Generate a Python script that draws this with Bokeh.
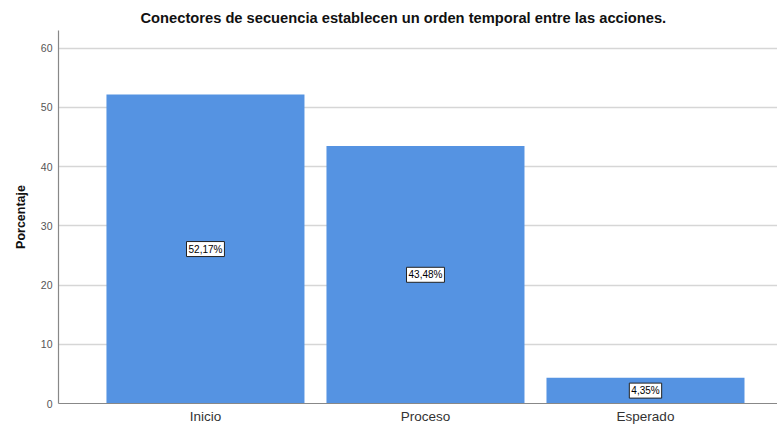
from bokeh.plotting import figure
from bokeh.models import ColumnDataSource, Range1d, FixedTicker, Label, Title
from bokeh.embed import file_html
from bokeh.resources import INLINE

categories = ["Inicio", "Proceso", "Esperado"]
values = [52.17, 43.48, 4.35]
labels = ["52,17%", "43,48%", "4,35%"]
y_ticks = [0, 10, 20, 30, 40, 50, 60]

xpos = [i + 0.5 for i in range(len(categories))]

src = ColumnDataSource(dict(x=xpos, val=values))

FONT = "Liberation Sans"

p = figure(
    frame_width=719, frame_height=373,
    x_range=Range1d(-0.168, 3.100),
    y_range=Range1d(0, 63),
    output_backend="svg", toolbar_location=None,
    min_border_left=58, min_border_right=0, min_border_top=30, min_border_bottom=17,
)
p.title = Title(text="Conectores de secuencia establecen un orden temporal entre las acciones.",
                align="left", offset=82, text_font=FONT, text_font_size="14.7px",
                text_font_style="bold", text_color="#111111", standoff=9)

p.vbar(x="x", top="val", width=0.9, source=src, fill_color="#5593E2", line_color=None)

for x, v, lab in zip(xpos, values, labels):
    p.add_layout(Label(x=x, y=v / 2, text=lab,
                       text_align="center", text_baseline="middle",
                       text_font=FONT, text_font_size="10px", text_color="#000000",
                       background_fill_color="white", border_line_color="#222222",
                       border_line_width=1, padding=2))

p.outline_line_color = None
p.xgrid.grid_line_color = None
p.ygrid.grid_line_color = "#d6d6d6"
p.ygrid.grid_line_width = 1.5
p.ygrid.ticker = FixedTicker(ticks=y_ticks)

p.yaxis.ticker = FixedTicker(ticks=y_ticks)
p.yaxis.axis_label = "Porcentaje"
p.yaxis.axis_label_text_font = FONT
p.yaxis.axis_label_text_font_size = "12.5px"
p.yaxis.axis_label_text_font_style = "bold"
p.yaxis.axis_label_text_color = "#111111"
p.yaxis.axis_label_standoff = 10
p.yaxis.major_label_text_font = FONT
p.yaxis.major_label_text_font_size = "10.5px"
p.yaxis.major_label_text_color = "#555555"
p.yaxis.major_label_standoff = 6
p.yaxis.major_tick_line_color = None
p.yaxis.major_tick_out = 0
p.yaxis.major_tick_in = 0
p.yaxis.minor_tick_line_color = None
p.yaxis.minor_tick_out = 0
p.yaxis.axis_line_color = "#888888"
p.yaxis.axis_line_width = 1.2

p.xaxis.ticker = FixedTicker(ticks=xpos)
p.xaxis.major_label_overrides = {x: c for x, c in zip(xpos, categories)}
p.xaxis.major_label_text_font = FONT
p.xaxis.major_label_text_font_size = "13.5px"
p.xaxis.major_label_text_color = "#333333"
p.xaxis.major_label_standoff = 5
p.xaxis.major_tick_line_color = None
p.xaxis.major_tick_out = 0
p.xaxis.major_tick_in = 0
p.xaxis.minor_tick_line_color = None
p.xaxis.minor_tick_out = 0
p.xaxis.axis_line_color = "#888888"
p.xaxis.axis_line_width = 1.2

open("out.html", "w").write(file_html(p, INLINE))
